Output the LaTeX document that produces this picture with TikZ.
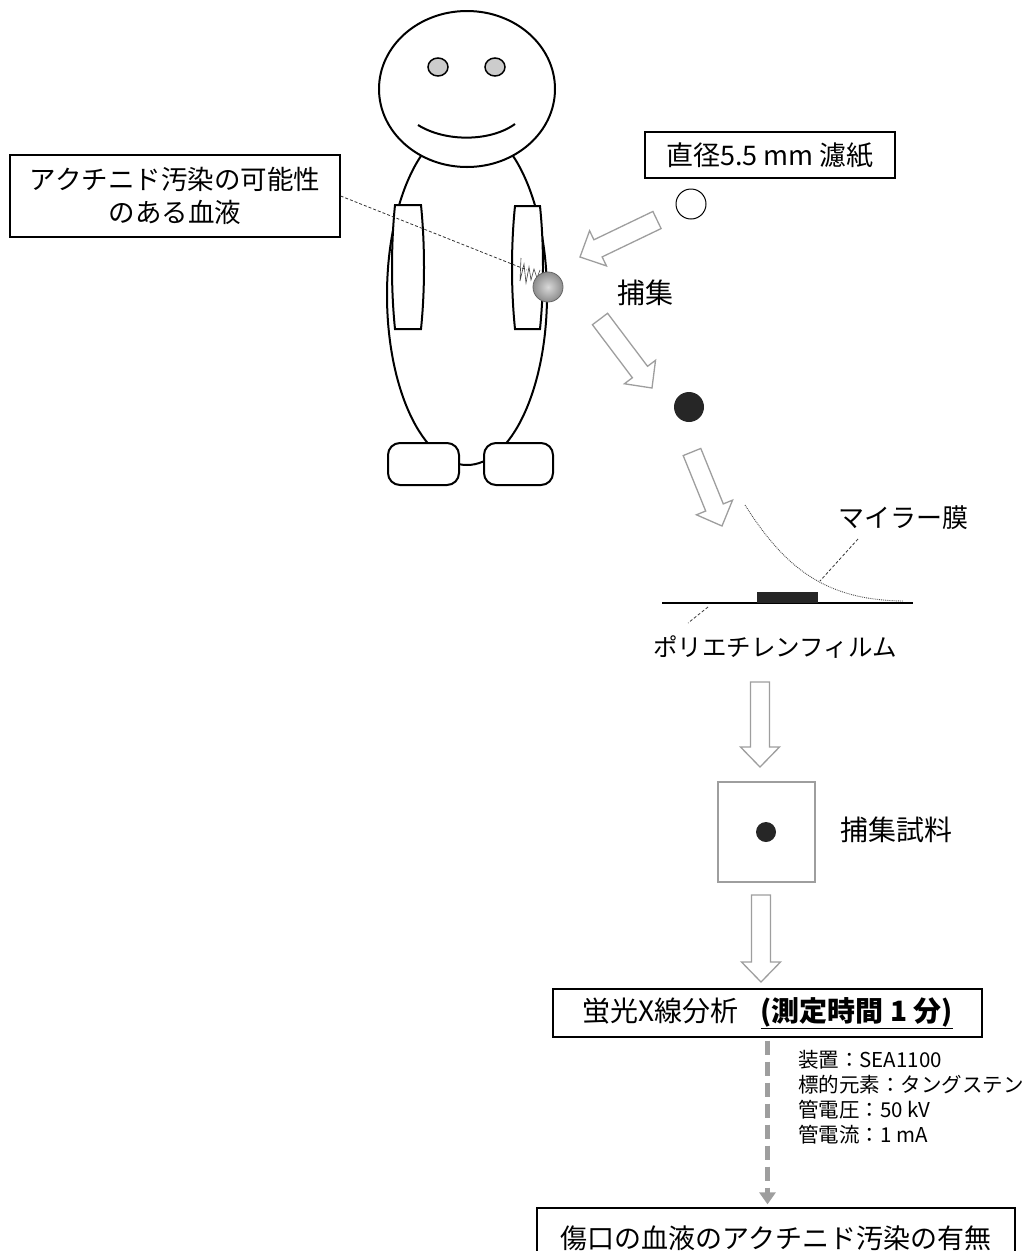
\documentclass[tikz,border=0pt]{standalone}
\usepackage{fontspec}
\setmainfont{Noto Sans CJK JP}
\usetikzlibrary{calc,arrows.meta}

\definecolor{arrowgray}{gray}{0.62}

\tikzset{
  figline/.style={draw=black, line width=2pt, fill=white},
  labelbox/.style={draw=black, line width=1.3pt, inner sep=0pt, align=center},
  hollow/.style={draw=arrowgray, line width=1.3pt, fill=white, line join=miter},
  leader/.style={draw=black!80, line width=0.8pt, dash pattern=on 3pt off 2pt},
}

\newcommand{\jfont}[2]{\fontsize{#1}{#2}\selectfont}

% outlined block arrow from #1 to #2
\newcommand{\hollowarrow}[2]{%
  \draw[hollow] let \p1=($(#2)!20pt!(#1)$) in
    ($(#1)!9.5pt!90:(#2)$) -- ($(\p1)!9.5pt!90:(#2)$) -- ($(\p1)!19.5pt!90:(#2)$)
    -- (#2) -- ($(\p1)!19.5pt!-90:(#2)$) -- ($(\p1)!9.5pt!-90:(#2)$)
    -- ($(#1)!9.5pt!-90:(#2)$) -- cycle;}

\begin{document}
\begin{tikzpicture}[x=1pt,y=-1pt]
\path[use as bounding box, clip] (0,0) rectangle (1028,1251);

% person
\draw[figline] (467,295) ellipse [x radius=80pt, y radius=170pt];
\draw[figline, rounded corners=12pt] (388,443) rectangle (459,485);
\draw[figline, rounded corners=12pt] (484,443) rectangle (553,485);
\draw[figline] (467,89) ellipse [x radius=88pt, y radius=78pt];
\filldraw[fill=black!20, draw=black, line width=1.5pt] (438,67) ellipse [x radius=10pt, y radius=9pt];
\filldraw[fill=black!20, draw=black, line width=1.5pt] (495,67) ellipse [x radius=10pt, y radius=9pt];
\draw[line width=2pt] (418,125) .. controls (445,142) and (490,142) .. (515,124);
\draw[figline] (395,205) -- (421,205) .. controls (425,245) and (425,290) .. (421,329)
  -- (395,329) .. controls (391,290) and (391,245) .. cycle;
\draw[figline] (515,206) -- (540,206) .. controls (544,245) and (544,290) .. (540,329)
  -- (515,329) .. controls (511,290) and (511,245) .. cycle;

% wound and blood
\draw[black!75, line width=0.6pt] (521,258) -- (520,281) -- (524,264) -- (526,283) -- (529,267)
  -- (531,280) -- (534,269) -- (537,278) -- (540,270);
\coordinate (drop) at (548,287);
\shade[inner color=black!15, outer color=black!45, draw=black!60, line width=0.8pt] (drop) circle (15pt);

\node[labelbox, minimum width=330pt, minimum height=82pt, font=\jfont{26.5}{33}] (bloodlbl) at (175,196)
  {アクチニド汚染の可能性\\のある血液};
\coordinate (wound) at (527,270);
\draw[leader] (bloodlbl.east) -- (wound);

% filter paper
\node[labelbox, minimum width=250pt, minimum height=46pt, font=\jfont{27}{30}] (paper) at (770,155)
  {直径5.5 mm 濾紙};
\draw[black, line width=1pt, fill=white] (691,204) circle (15pt);
\node[font=\jfont{28}{32}] (capture) at (645,293) {捕集};
\fill[black!85] (689,407) circle (15pt);

\coordinate (a1s) at (657,220); \coordinate (a1e) at (580,257);
\coordinate (a2s) at (600,319); \coordinate (a2e) at (652,388);
\coordinate (a3s) at (692,452); \coordinate (a3e) at (722,526);
\hollowarrow{a1s}{a1e}
\hollowarrow{a2s}{a2e}
\hollowarrow{a3s}{a3e}

% film
\coordinate (filmL) at (662,603); \coordinate (filmR) at (913,603);
\draw[line width=1.3pt] (filmL) -- (filmR);
\fill[black!85] (757,592) rectangle (818,603);
\draw[black!70, line width=0.9pt, densely dotted] (745,505) .. controls (785,568) and (825,600) .. (903,601);
\node[font=\jfont{26}{30}] (mylar) at (903,518) {マイラー膜};
\draw[leader] (858,539) -- (820,581);
\node[font=\jfont{24.5}{30}] (pe) at (775,647) {ポリエチレンフィルム};
\draw[leader] (708,607) -- (688,623);

% sample
\coordinate (a4s) at (760,682); \coordinate (a4e) at (760,767);
\hollowarrow{a4s}{a4e}
\node[draw=arrowgray, line width=2pt, minimum width=97pt, minimum height=100pt] (sample) at (766,832) {};
\fill[black!85] (sample.center) circle (10pt);
\node[font=\jfont{28}{32}] (samplelbl) at (896,830) {捕集試料};

\coordinate (a5s) at (761,895); \coordinate (a5e) at (761,982);
\hollowarrow{a5s}{a5e}

% measurement
\node[labelbox, minimum width=429pt, minimum height=48pt, font=\jfont{28}{32}] (xrf) at (767.5,1013)
  {蛍光X線分析\hspace{0.8em}\textbf{\underline{(測定時間 1 分)}}};
\node[anchor=north west, align=left, inner sep=0pt, font=\jfont{20.5}{25}] (spec) at (798,1050)
  {装置：SEA1100\\標的元素：タングステン\\管電圧：50 kV\\管電流：1 mA};
\node[labelbox, minimum width=478pt, minimum height=60pt, font=\jfont{27}{32}] (result) at (776,1238)
  {傷口の血液のアクチニド汚染の有無};
\draw[arrowgray, line width=4.5pt, dash pattern=on 14pt off 7pt, shorten <=3pt, shorten >=3pt,
  -{Triangle[width=16pt,length=12pt]}] (xrf.south) -- (xrf.south |- result.north);

\end{tikzpicture}
\end{document}
